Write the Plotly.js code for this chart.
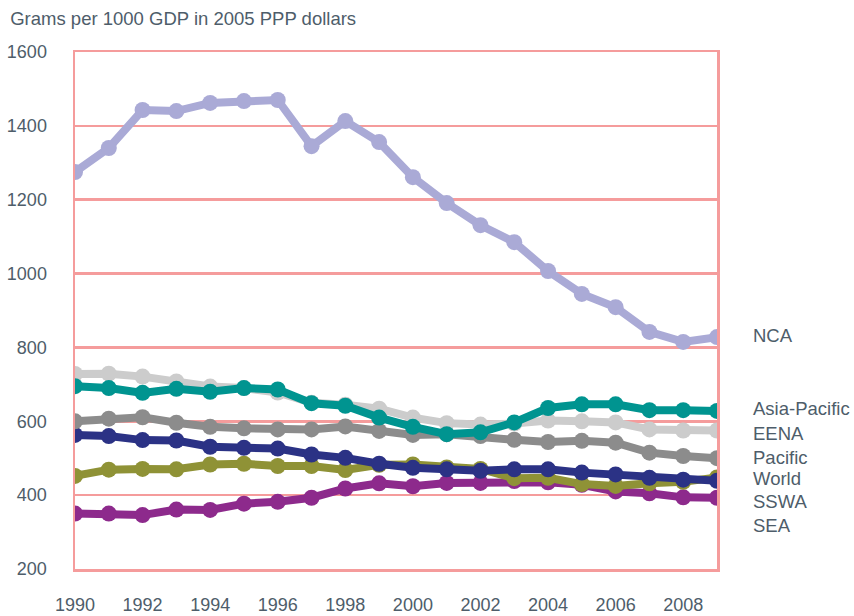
<!DOCTYPE html>
<html>
<head>
<meta charset="utf-8">
<script src="https://cdn.plot.ly/plotly-3.0.1.min.js"></script>
<style>html,body{margin:0;padding:0;background:#fff;}#chart{width:854px;height:616px;}</style>
</head>
<body>
<div id="chart"></div>
<script>
const years = [1990,1991,1992,1993,1994,1995,1996,1997,1998,1999,2000,2001,2002,2003,2004,2005,2006,2007,2008,2009];
const sea   = [350,350,346,361,360,377,382,393,418,432,424,433,433,438,435,428,410,405,394,393];
const world = [452,469,471,470,483,485,479,479,468,482,483,475,471,446,447,430,425,432,436,448];
const sswa  = [563,560,549,548,531,528,526,510,501,485,474,470,466,470,470,461,456,447,442,439];
const pacific = [600,607,611,596,585,581,578,578,586,574,563,565,560,550,544,547,542,515,506,500];
const eena  = [728,729,721,708,694,690,678,650,645,634,610,595,591,594,602,600,597,578,575,575];
const asiaPacific = [695,690,677,688,680,690,686,649,642,610,585,565,570,597,636,646,646,630,630,628];
const nca   = [1275,1340,1443,1440,1462,1467,1470,1345,1413,1356,1261,1191,1131,1085,1007,945,909,842,815,828];

const yTicks = [200,400,600,800,1000,1200,1400,1600];
const xTicks = [1990,1992,1994,1996,1998,2000,2002,2004,2006,2008];

const seriesNames = ['SEA','World','SSWA','Pacific','EENA','Asia-Pacific','NCA'];
const seriesData = [sea, world, sswa, pacific, eena, asiaPacific, nca];
const seriesColors = ['#8d2a8c','#8f9236','#2b3285','#8c8c8c','#cccccc','#009490','#aaaad6'];

const labelNames = ['NCA','Asia-Pacific','EENA','Pacific','World','SSWA','SEA'];
const labelY = [831,634,566,503,444,382,319];

const textColor = '#4e5d6a';
const gridColor = '#f59c9c';
const fontFam = 'Liberation Sans, Arial, sans-serif';

const traces = seriesData.map((d,i)=>({
  x: years, y: d, type:'scatter', mode:'lines+markers', name: seriesNames[i],
  line:{color: seriesColors[i], width:8},
  marker:{color: seriesColors[i], size:16},
  showlegend:false, hoverinfo:'skip'
}));

const annotations = labelNames.map((t,i)=>({
  text: t, xref:'paper', yref:'y', x:1.053, y: labelY[i], xanchor:'left', yanchor:'middle',
  showarrow:false, font:{family:fontFam, size:18.5, color:textColor}
}));

const layout = {
  width:854, height:616,
  margin:{l:75, r:137, t:52, b:47},
  paper_bgcolor:'#fff', plot_bgcolor:'#fff',
  font:{family:fontFam, size:18, color:textColor},
  title:{text:'Grams per 1000 GDP in 2005 PPP dollars', x:0.012, xanchor:'left', xref:'container', y:0.97, yanchor:'middle', yref:'container', font:{size:18.5, color:textColor}},
  xaxis:{range:[1990,2009], tickvals:xTicks, ticktext:xTicks.map(String), showgrid:false, zeroline:false,
    showline:true, mirror:true, linecolor:gridColor, linewidth:2.5, ticks:'', ticklabelstandoff:18,
    tickfont:{size:18, color:textColor}},
  yaxis:{range:[200,1600], tickvals:yTicks, ticktext:yTicks.map(String), showgrid:true, gridcolor:gridColor, gridwidth:2.5,
    zeroline:false, showline:true, mirror:true, linecolor:gridColor, linewidth:2.5, ticks:'', ticklabelstandoff:22,
    tickfont:{size:18, color:textColor}},
  annotations: annotations
};

Plotly.newPlot('chart', traces, layout, {displayModeBar:false, staticPlot:true});
</script>
</body>
</html>
